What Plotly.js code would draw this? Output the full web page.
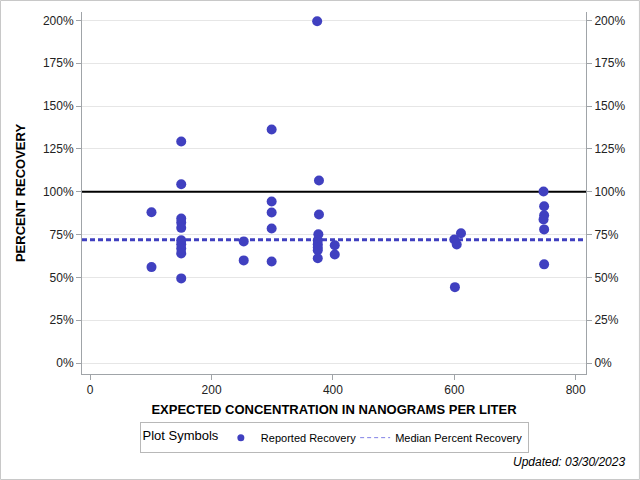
<!DOCTYPE html>
<html>
<head>
<meta charset="utf-8">
<script src="https://cdn.plot.ly/plotly-3.0.1.min.js"></script>
<style>
  body { margin: 0; background: #fff; }
  #chart { width: 640px; height: 480px; }
</style>
</head>
<body>
<div id="chart"></div>
<script>
// expected concentration (ng/L) and percent recovery
var conc = [101, 101,
    150, 150, 150, 150, 150, 150, 150, 150, 150, 150,
    253, 253,
    299, 299, 299, 299, 299,
    374, 377, 377, 376, 375, 375, 375, 375, 375,
    403, 403,
    600, 604, 611, 601,
    747, 748, 748, 747, 748, 748];
var recovery = [88.0, 56.0,
    129.3, 104.4, 84.4, 82.0, 78.9, 71.7, 69.4, 66.9, 64.0, 49.4,
    71.0, 59.9,
    136.3, 94.3, 87.9, 78.5, 59.3,
    199.5, 106.5, 86.7, 75.2, 71.7, 69.4, 67.5, 65.9, 61.2,
    68.8, 63.4,
    72.1, 69.2, 75.8, 44.3,
    100.1, 91.5, 86.3, 83.8, 78.0, 57.6];
var medianRecovery = 72;
var xRange = [-13.5, 817];
var yRange = [-6.4, 204.9];
var yTicks = [0, 25, 50, 75, 100, 125, 150, 175, 200];
var yTickText = ['0%', '25%', '50%', '75%', '100%', '125%', '150%', '175%', '200%'];

var blue = 'rgb(64,64,192)';

var traces = [
    {
        x: xRange, y: [100, 100], mode: 'lines', type: 'scatter',
        line: {color: '#000', width: 2}, showlegend: false, hoverinfo: 'skip'
    },
    {
        x: xRange, y: [medianRecovery, medianRecovery], mode: 'lines', type: 'scatter',
        line: {color: blue, width: 3, dash: '5px,3px'}, showlegend: false, hoverinfo: 'skip'
    },
    {
        x: conc, y: recovery, mode: 'markers', type: 'scatter',
        showlegend: false,
        marker: {color: blue, size: 10}
    },
    // legend-only entries (smaller symbols, as in the key)
    {
        x: [null], y: [null], mode: 'markers', type: 'scatter',
        name: 'Reported Recovery',
        marker: {color: blue, size: 7}
    },
    {
        x: [null], y: [null], mode: 'lines', type: 'scatter',
        name: 'Median Percent Recovery',
        line: {color: 'rgb(128,128,230)', width: 1, dash: '4px,3px'}
    },
    {
        x: [null], y: [null], yaxis: 'y2', mode: 'markers', showlegend: false
    }
];

var axisFont = {family: 'Liberation Sans, Arial, sans-serif', size: 12, color: '#222'};

var layout = {
    width: 640, height: 480,
    margin: {l: 82, r: 54, t: 12, b: 106},
    paper_bgcolor: '#fff', plot_bgcolor: '#fff',
    font: axisFont,
    xaxis: {
        range: xRange, tickvals: [0, 200, 400, 600, 800],
        showgrid: false, zeroline: false,
        showline: true, linecolor: '#a0a4a8', linewidth: 1,
        ticks: 'outside', ticklen: 5, tickcolor: '#a0a4a8',
        tickfont: axisFont,
        title: {text: 'EXPECTED CONCENTRATION IN NANOGRAMS PER LITER',
            font: {family: 'Liberation Sans, Arial, sans-serif', size: 13, color: '#000', weight: 'bold'},
            standoff: 8}
    },
    yaxis: {
        range: yRange, tickvals: yTicks, ticktext: yTickText,
        showgrid: true, gridcolor: '#e6e6e6', zeroline: false,
        showline: true, linecolor: '#a0a4a8', mirror: false,
        ticks: 'outside', ticklen: 5, tickcolor: '#a0a4a8',
        tickfont: axisFont,
        title: {text: 'PERCENT RECOVERY',
            font: {family: 'Liberation Sans, Arial, sans-serif', size: 13, color: '#000', weight: 'bold'},
            standoff: 14}
    },
    yaxis2: {
        range: yRange, tickvals: yTicks, ticktext: yTickText,
        overlaying: 'y', side: 'right', showgrid: false, zeroline: false,
        showline: true, linecolor: '#a0a4a8',
        ticks: 'outside', ticklen: 5, tickcolor: '#a0a4a8',
        tickfont: axisFont
    },
    showlegend: true,
    legend: {
        orientation: 'h', x: 0.5, xanchor: 'center', y: -0.133, yanchor: 'top',
        bordercolor: '#b8b8b8', borderwidth: 1, bgcolor: '#fff',
        font: {family: 'Liberation Sans, Arial, sans-serif', size: 11, color: '#000'},
        title: {text: 'Plot Symbols', side: 'left',
            font: {family: 'Liberation Sans, Arial, sans-serif', size: 13, color: '#000'}},
        itemwidth: 30, tracegroupgap: 0, valign: 'middle', indentation: -6
    },
    shapes: [{
        type: 'rect', xref: 'paper', yref: 'paper',
        x0: -0.1617, x1: 1.106, y0: -0.2914, y1: 1.0318,
        line: {color: '#c8c8c8', width: 1}
    }],
    annotations: [{
        xref: 'paper', yref: 'paper', x: 1.081, y: -0.242,
        xanchor: 'right', yanchor: 'middle', showarrow: false,
        text: '<i>Updated: 03/30/2023</i>',
        font: {family: 'Liberation Sans, Arial, sans-serif', size: 12, color: '#000'}
    }]
};

Plotly.newPlot('chart', traces, layout, {displayModeBar: false, staticPlot: true});
</script>
</body>
</html>
